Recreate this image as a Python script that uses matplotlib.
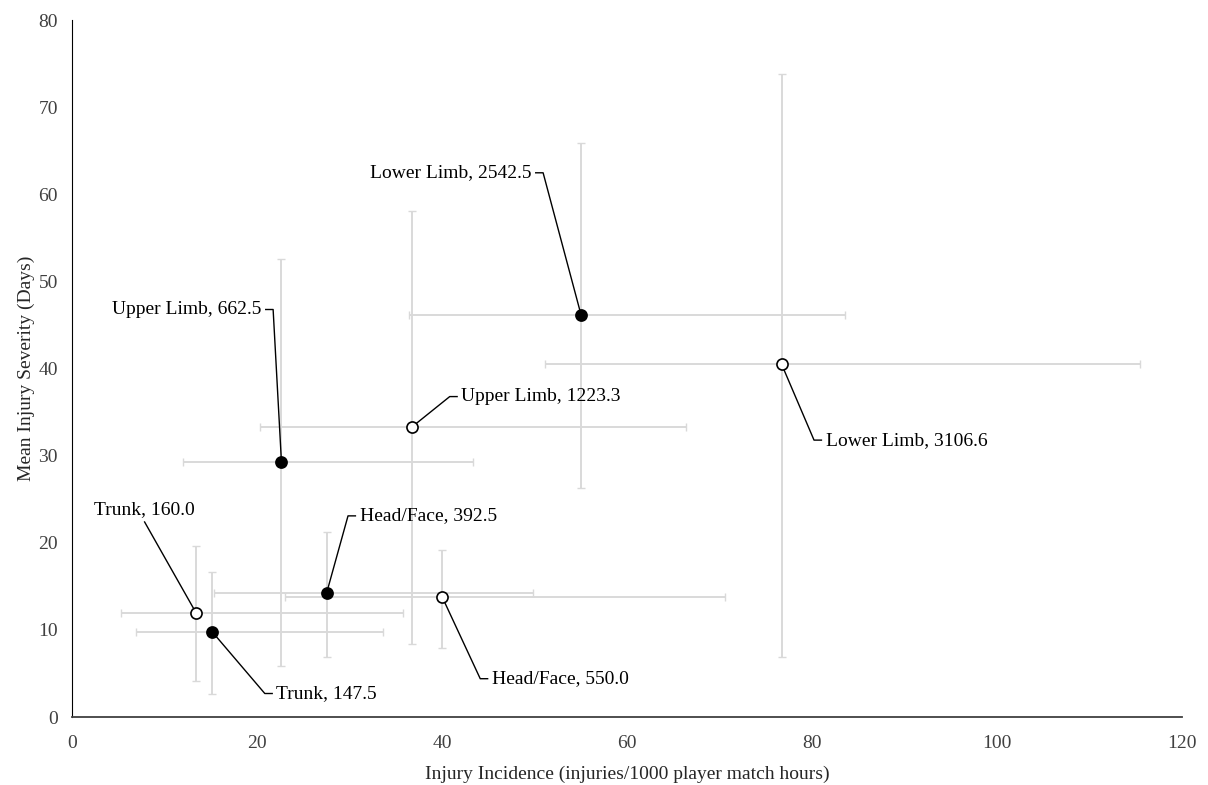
import matplotlib.pyplot as plt
import numpy as np

plt.rcParams['font.family'] = ['Liberation Serif', 'DejaVu Serif']

regions = ['Lower Limb', 'Upper Limb', 'Head/Face', 'Trunk']

# filled markers
inc_a = [55.0, 22.6, 27.5, 15.1]
sev_a = [46.2, 29.3, 14.3, 9.8]
inc_a_lo = [36.4, 11.9, 15.3, 6.9]
inc_a_hi = [83.6, 43.3, 49.8, 33.6]
sev_a_lo = [26.3, 5.9, 6.9, 2.6]
sev_a_hi = [65.9, 52.6, 21.3, 16.7]
burden_a = ['2542.5', '662.5', '392.5', '147.5']

# open markers
inc_b = [76.7, 36.7, 40.0, 13.4]
sev_b = [40.5, 33.3, 13.75, 11.9]
inc_b_lo = [51.1, 20.3, 23.0, 5.3]
inc_b_hi = [115.5, 66.3, 70.6, 35.7]
sev_b_lo = [6.9, 8.4, 7.9, 4.1]
sev_b_hi = [73.9, 58.1, 19.2, 19.6]
burden_b = ['3106.6', '1223.3', '550.0', '160.0']

# label placement: (elbow x, elbow y, side)  side: 1 text right of elbow, -1 left, 0 above
lab_a = [(50.9, 62.5, -1), (21.7, 46.8, -1), (29.8, 23.1, 1), (20.8, 2.7, 1)]
lab_b = [(80.2, 31.8, 1), (40.8, 36.8, 1), (44.1, 4.4, 1), (7.8, 22.4, 0)]

fig = plt.figure(figsize=(12.08, 7.85), dpi=100)
ax = fig.add_axes([0.060, 0.0866, 0.9185, 0.8874])

err_col = '#d9d9d9'


def draw(inc, sev, ilo, ihi, slo, shi, face):
    inc = np.array(inc)
    sev = np.array(sev)
    xerr = [inc - np.array(ilo), np.array(ihi) - inc]
    yerr = [sev - np.array(slo), np.array(shi) - sev]
    ax.errorbar(inc, sev, xerr=xerr, yerr=yerr, fmt='none', ecolor=err_col,
                elinewidth=1.4, capsize=3, capthick=1.0, zorder=2)
    ax.plot(inc, sev, 'o', ms=8, mfc=face, mec='black', mew=1.2,
            ls='none', zorder=4)


def labels(inc, sev, burden, lab):
    for r, x, y, b, (ex, ey, side) in zip(regions, inc, sev, burden, lab):
        txt = f'{r}, {b}'
        if side == 0:
            ax.plot([x, ex], [y, ey], color='black', lw=1, zorder=3)
            ax.text(ex, ey + 0.5, txt, ha='center', va='bottom', fontsize=14)
        else:
            hx = ex + side * 0.8
            ax.plot([x, ex, hx], [y, ey, ey], color='black', lw=1, zorder=3)
            ax.text(hx + side * 0.45, ey, txt, ha='left' if side > 0 else 'right',
                    va='center', fontsize=14)


draw(inc_a, sev_a, inc_a_lo, inc_a_hi, sev_a_lo, sev_a_hi, 'black')
draw(inc_b, sev_b, inc_b_lo, inc_b_hi, sev_b_lo, sev_b_hi, 'white')
labels(inc_a, sev_a, burden_a, lab_a)
labels(inc_b, sev_b, burden_b, lab_b)

ax.set_xlim(0, 120)
ax.set_ylim(0, 80)
ax.set_xticks(range(0, 121, 20))
ax.set_yticks(range(0, 81, 10))
ax.tick_params(length=0, labelsize=14, labelcolor='#404040')
ax.tick_params(axis='x', pad=13)
ax.tick_params(axis='y', pad=10.5)
for s in ['top', 'right']:
    ax.spines[s].set_visible(False)
ax.spines['left'].set_color('black')
ax.spines['bottom'].set_color('#404040')
ax.spines['bottom'].set_linewidth(1.3)

ax.set_xlabel('Injury Incidence (injuries/1000 player match hours)', fontsize=14,
              color='#262626', labelpad=10)
ax.set_ylabel('Mean Injury Severity (Days)', fontsize=14, color='#262626', labelpad=2)

fig.savefig('out.png', dpi=100)
